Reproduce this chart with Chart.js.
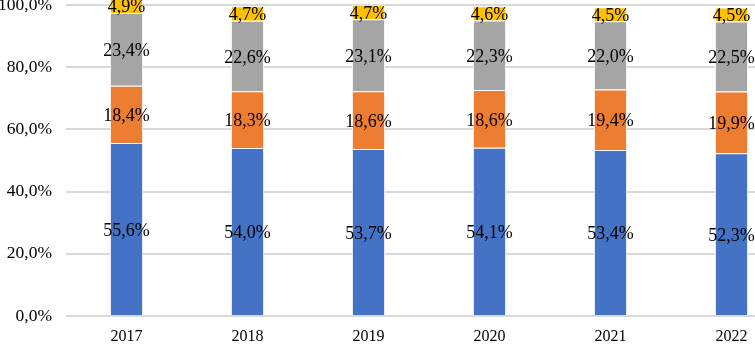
<!DOCTYPE html>
<html>
<head>
<meta charset="utf-8">
<script src="https://cdn.jsdelivr.net/npm/chart.js@4/dist/chart.umd.min.js"></script>
<style>
  html, body { margin: 0; padding: 0; background: #fff; overflow: hidden; width: 755px; height: 345px; }
  #wrap { position: absolute; left: 0; top: -20px; width: 800px; height: 365px; }
</style>
</head>
<body>
<div id="wrap"><canvas id="chart"></canvas></div>
<script>
  const years = ['2017', '2018', '2019', '2020', '2021', '2022'];
  const blueVals = [55.6, 54.0, 53.7, 54.1, 53.4, 52.3];
  const orangeVals = [18.4, 18.3, 18.6, 18.6, 19.4, 19.9];
  const grayVals = [23.4, 22.6, 23.1, 22.3, 22.0, 22.5];
  const yellowVals = [4.9, 4.7, 4.7, 4.6, 4.5, 4.5];
  const yTicks = [0, 20, 40, 60, 80, 100];

  const fmt = v => v.toFixed(1).replace('.', ',') + '%';
  const serif = '"Liberation Serif", "Times New Roman", serif';

  function makeSet(label, data, color) {
    return {
      label: label,
      data: data,
      backgroundColor: color,
      borderColor: '#ffffff',
      borderWidth: 1,
      clip: false,
      barPercentage: 0.275,
      categoryPercentage: 1
    };
  }

  // draws the value in the middle of every segment
  const segmentLabels = {
    id: 'segmentLabels',
    afterDatasetsDraw(chart) {
      const ctx = chart.ctx;
      ctx.save();
      ctx.font = '18px ' + serif;
      ctx.fillStyle = '#000';
      ctx.textAlign = 'center';
      ctx.textBaseline = 'middle';
      chart.data.datasets.forEach(function(ds, i) {
        const meta = chart.getDatasetMeta(i);
        meta.data.forEach(function(bar, j) {
          const p = bar.getProps(['x', 'y', 'base'], true);
          ctx.fillText(fmt(ds.data[j]), p.x, (p.y + p.base) / 2 + 2);
        });
      });
      ctx.restore();
    }
  };

  new Chart(document.getElementById('chart').getContext('2d'), {
    type: 'bar',
    data: {
      labels: years,
      datasets: [
        makeSet('blue', blueVals, '#4472C4'),
        makeSet('orange', orangeVals, '#ED7D31'),
        makeSet('gray', grayVals, '#A5A5A5'),
        makeSet('yellow', yellowVals, '#FFC000')
      ]
    },
    options: {
      responsive: true,
      maintainAspectRatio: false,
      animation: false,
      layout: { padding: { top: 25, right: 8, left: 0, bottom: 0 } },
      plugins: { legend: { display: false }, tooltip: { enabled: false } },
      scales: {
        x: {
          stacked: true,
          grid: { display: false },
          border: { display: false },
          ticks: { color: '#000', font: { family: serif, size: 16 }, padding: 3 },
          afterFit(axis) { axis.height = 29; }
        },
        y: {
          stacked: true,
          min: 0,
          max: 100,
          afterBuildTicks(axis) { axis.ticks = yTicks.map(v => ({ value: v })); },
          grid: { color: '#D9D9D9', lineWidth: 2, drawTicks: false },
          border: { display: false },
          ticks: {
            color: '#000',
            font: { family: serif, size: 17.5 },
            padding: 14,
            callback: v => fmt(v)
          },
          afterFit(axis) { axis.width = 66; }
        }
      }
    },
    plugins: [segmentLabels]
  });
</script>
</body>
</html>
